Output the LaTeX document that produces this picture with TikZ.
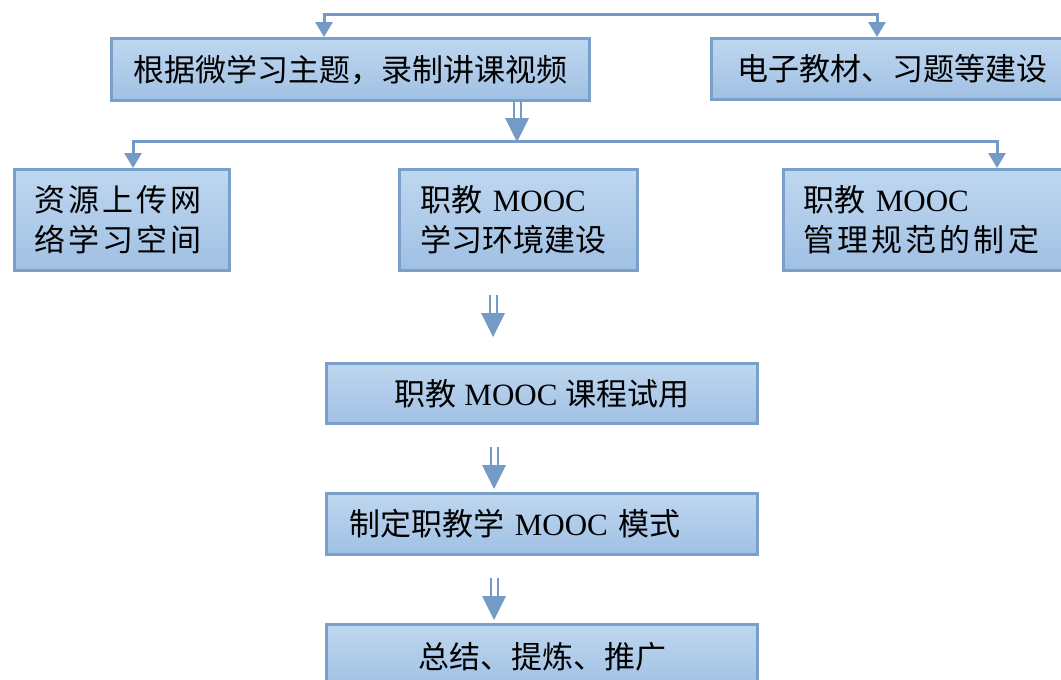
\documentclass[tikz,border=0pt]{standalone}
\usepackage{fontspec}
\setmainfont{Liberation Serif}
\newfontfamily\cjk{Noto Sans CJK SC}
\newfontfamily\cjkw[LetterSpace=10]{Noto Sans CJK SC}
\usetikzlibrary{arrows.meta}
\definecolor{bdr}{RGB}{122,160,201}
\definecolor{ftop}{RGB}{190,215,240}
\definecolor{fbot}{RGB}{160,192,227}
\definecolor{lnc}{RGB}{115,155,197}
\begin{document}
\begin{tikzpicture}[x=1pt,y=-1pt,
  box/.style={draw=bdr,line width=3pt,top color=ftop,bottom color=fbot,anchor=north west,
    inner sep=0pt,font=\fontsize{31}{40}\selectfont,text=black},
  conn/.style={draw=lnc,line width=3pt,-{Triangle[width=17pt,length=15pt]}},
  dbl/.pic={\draw[lnc,line width=2pt] (-3.5,0)--(-3.5,19) (3.5,0)--(3.5,19);
            \fill[lnc] (-12,18)--(12,18)--(0,42)--cycle;}]
\useasboundingbox (0,0) rectangle (1061,680);

\node[box,minimum width=478pt,minimum height=62pt] (b1) at (110,37) {\cjk 根据微学习主题，录制讲课视频};
\node[box,minimum width=362pt,minimum height=61pt] (b2) at (710,37) {\cjk 电子教材、习题等建设};

\node[box,minimum width=215pt,minimum height=101pt,text width=175pt,align=left] (b3) at (13,168)
  {\cjkw 资源上传网\\\cjkw 络学习空间};
\node[box,minimum width=238pt,minimum height=101pt,text width=196pt,align=left] (b4) at (398,168)
  {{\cjk 职教} MOOC\\{\cjk 学习环境建设}};
\node[box,minimum width=300pt,minimum height=101pt,text width=260pt,align=left] (b5) at (782,168)
  {{\cjk 职教} MOOC\\{\cjkw 管理规范的制定}};

\node[box,minimum width=431pt,minimum height=60pt] (b6) at (325,362) {{\cjk 职教} MOOC {\cjk 课程试用}};
\node[box,minimum width=431pt,minimum height=61pt,text width=385pt,align=left] (b7) at (325,492)
  {{\cjk 制定职教学} MOOC {\cjk 模式}};
\node[box,minimum width=431pt,minimum height=64pt] (b8) at (325,623) {\cjk 总结、提炼、推广};

% top connector
\coordinate (tm) at (600,14);
\coordinate (x1) at (324,0);
\coordinate (x2) at (877,0);
\draw[conn] (tm) -| (b1.north -| x1);
\draw[conn] (tm) -| (b2.north -| x2);

% second row connector
\coordinate (m2) at (517,141);
\coordinate (x3) at (133,0);
\coordinate (x5) at (997,0);
\draw[conn] (m2) -| (b3.north -| x3);
\draw[conn] (m2) -| (b5.north -| x5);

% double arrows
\pic at (517,100) {dbl};
\pic at (493,295) {dbl};
\pic at (494,447) {dbl};
\pic at (494,578) {dbl};
\end{tikzpicture}
\end{document}
